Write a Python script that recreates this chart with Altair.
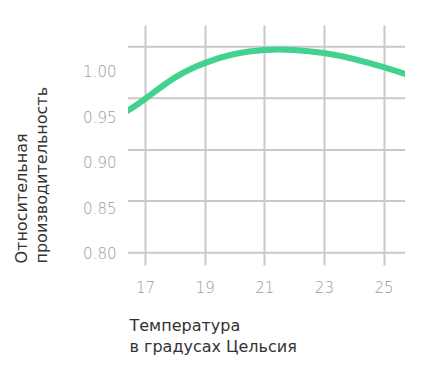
import altair as alt
import pandas as pd

# curve
temps = [16.3, 16.43, 17, 18, 19, 20, 21, 22, 23, 24, 25, 25.72, 25.9]
perf = [0.9550, 0.9573, 0.9700, 0.9935, 1.0095, 1.0195, 1.0240, 1.0240, 1.0205, 1.0140, 1.0050, 0.9975, 0.9955]

x_ticks = [17, 19, 21, 23, 25]
y_ticks = [0.80, 0.85, 0.90, 0.95, 1.00]
# horizontal grid lines (drawn independently of the tick labels in the source)
grid_y = [0.8009, 0.8578, 0.9139, 0.9707, 1.0275]

x_title = ["Температура", "в градусах Цельсия"]
y_title = ["Относительная", "производительность"]

curve = pd.DataFrame({"t": temps, "p": perf})
grid = pd.DataFrame({"g": grid_y})

GREEN = "#43d18f"
GRID = "#c9c9c9"
FONT = "DejaVu Sans"

xscale = alt.Scale(domain=[16.43, 25.72], nice=False, zero=False)
yscale = alt.Scale(domain=[0.7873, 1.0514], nice=False, zero=False)

x_axis = alt.Axis(
    values=x_ticks,
    grid=True,
    gridColor=GRID,
    gridWidth=2,
    ticks=False,
    domain=False,
    labelFont=FONT,
    labelFontSize=15,
    labelFontWeight=200,
    labelColor="#9a9a9a",
    labelPadding=15,
    title=x_title,
    titleFont=FONT,
    titleFontSize=16,
    titleFontWeight=500,
    titleColor="#333333",
    titleAlign="left",
    titleAnchor="start",
    titleBaseline="alphabetic",
    titleX=1,
    titleY=65,
    titleLineHeight=21,
)

y_axis = alt.Axis(
    values=y_ticks,
    format=".2f",
    grid=False,
    ticks=False,
    domain=False,
    labelFont=FONT,
    labelFontSize=15,
    labelFontWeight=200,
    labelColor="#9a9a9a",
    labelPadding=12,
    title=y_title,
    titleFont=FONT,
    titleFontSize=16,
    titleFontWeight=500,
    titleColor="#333333",
    titleAngle=270,
    titleAlign="left",
    titleAnchor="start",
    titleBaseline="alphabetic",
    titleX=-101.5,
    titleY=238,
    titleLineHeight=20,
)

hgrid = alt.Chart(grid).mark_rule(color=GRID, strokeWidth=2).encode(
    y=alt.Y("g:Q", scale=yscale, axis=y_axis),
    x=alt.value(0),
    x2=alt.value(277),
)

line = alt.Chart(curve).mark_line(
    color=GREEN, strokeWidth=6, interpolate="natural", clip=True
).encode(
    x=alt.X("t:Q", scale=xscale, axis=x_axis),
    y=alt.Y("p:Q", scale=yscale, axis=y_axis),
)

chart = (
    alt.layer(hgrid, line)
    .properties(
        width=277,
        height=240,
        autosize=alt.AutoSizeParams(type="none"),
        padding={"left": 120, "top": 17, "right": 10, "bottom": 100},
    )
    .configure_view(stroke=None)
)

chart.save("out.html", embed_options={"renderer": "svg", "actions": False})
